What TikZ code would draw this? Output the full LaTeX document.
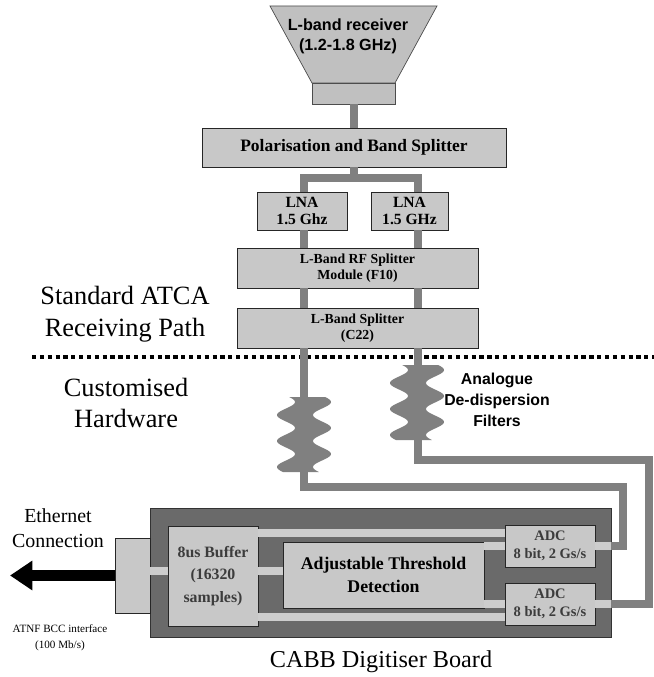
\documentclass[tikz,border=0pt]{standalone}
\usepackage{fontspec}
\setmainfont{Liberation Serif}
\setsansfont{Liberation Sans}
\usetikzlibrary{positioning,calc,arrows.meta}

\definecolor{boxgray}{RGB}{200,200,200}
\definecolor{horngray}{RGB}{192,192,192}
\definecolor{wiregray}{RGB}{128,128,128}
\definecolor{boardgray}{RGB}{106,106,106}
\definecolor{stripegray}{RGB}{205,205,205}
\definecolor{txtgray}{RGB}{60,60,60}

\newcommand{\fsz}[2]{\fontsize{#1}{#2}\selectfont}
% de-dispersion filter: centre x, top y
\newcommand{\ddfilter}[2]{%
  \fill[wiregray] plot[domain=#2:#2+75,samples=90,variable=\t] ({#1-18+9*sin((\t-#2-5)/26*360+90)},\t)
    -- plot[domain=#2+75:#2,samples=90,variable=\t] ({#1+18+9*sin((\t-#2-5)/26*360+90)},\t) -- cycle;}

\begin{document}
\begin{tikzpicture}[x=0.03cm,y=-0.03cm,
  box/.style={draw=black!85, fill=boxgray, line width=0.7pt, inner sep=0pt, align=center, font=\bfseries},
  wire/.style={draw=wiregray, line width=6.8pt},
  stripe/.style={draw=stripegray, line width=6pt},
  lbl/.style={inner sep=0pt, align=center}]

\useasboundingbox (0,0) rectangle (654,677);

% receiver horn
\draw[fill=horngray, draw=black!70, line width=0.6pt] (270,6) -- (437,6) -- (395,83) -- (312,83) -- cycle;
\node[box, fill=horngray, draw=black!70, minimum width=2.49cm, minimum height=0.63cm] (hornbase) at (353.5,93.5) {};
\node[lbl, font=\sffamily\bfseries\fsz{13.8}{17}] (horn) at (348,36) {L-band receiver\\(1.2-1.8 GHz)};

% standard receiving path
\node[box, minimum width=9.12cm, minimum height=1.17cm, font=\bfseries\fsz{14.9}{17}] (pol) at (354,147.5) {Polarisation and Band Splitter};
\node[box, minimum width=2.7cm, minimum height=1.14cm, font=\bfseries\fsz{13.3}{14.5}] (lna1) at (302,211) {LNA\\1.5 Ghz};
\node[box, minimum width=2.31cm, minimum height=1.14cm, font=\bfseries\fsz{13.3}{14.5}] (lna2) at (409.5,211) {LNA\\1.5 GHz};
\node[box, minimum width=7.23cm, minimum height=1.2cm, font=\bfseries\fsz{11.8}{13.6}] (f10) at (357.5,268) {L-Band RF Splitter\\Module (F10)};
\node[box, minimum width=7.23cm, minimum height=1.2cm, font=\bfseries\fsz{11.8}{13.6}] (c22) at (357.5,328) {L-Band Splitter\\(C22)};

\node[lbl, font=\fsz{22.5}{27.2}] (stdpath) at (125,314) {Standard ATCA\\Receiving Path};
\node[lbl, font=\fsz{22.5}{27.2}] (custom) at (126,403) {Customised\\Hardware};

% divider
\coordinate (divL) at (32,357);
\coordinate (divR) at (654,357);
\draw[line width=3.6pt, dash pattern=on 3.6pt off 3.1pt] (divL) -- (divR);

% digitiser board
\node[draw=black!80, fill=boardgray, line width=0.7pt, minimum width=13.83cm, minimum height=3.87cm, inner sep=0pt] (board) at (380.5,572.5) {};
\node[box, minimum width=1.05cm, minimum height=2.25cm] (bcc) at (132.5,575.5) {};
\node[box, minimum width=2.7cm, minimum height=3cm, text=txtgray, font=\bfseries\fsz{13.5}{19}] (buf) at (213,576) {8us Buffer\\(16320\\samples)};
\node[box, minimum width=6.03cm, minimum height=1.98cm, font=\bfseries\fsz{15.2}{19.8}] (atd) at (383.5,575) {Adjustable Threshold\\Detection};
\node[box, minimum width=2.7cm, minimum height=1.26cm, text=txtgray, font=\bfseries\fsz{12.4}{15.3}] (adc1) at (550,546) {ADC\\8 bit, 2 Gs/s};
\node[box, minimum width=2.7cm, minimum height=1.26cm, text=txtgray, font=\bfseries\fsz{12.4}{15.3}] (adc2) at (550,604) {ADC\\8 bit, 2 Gs/s};

\coordinate (rowtop) at (0,533);
\coordinate (rowmid) at (0,571);
\coordinate (rowbot) at (0,617);
\draw[stripe] (buf.east |- rowtop) -- (adc1.west |- rowtop);
\draw[stripe] (buf.east |- rowbot) -- (adc2.west |- rowbot);
\draw[stripe] (buf.east |- rowmid) -- (atd.west |- rowmid);
\draw[stripe] (bcc.east |- rowmid) -- (buf.west |- rowmid);
\draw[stripe] (atd.east |- adc1.west) -- (adc1.west);
\draw[stripe] (atd.east |- adc2.west) -- (adc2.west);
\draw[stripe] (adc1.east) -- (board.east |- adc1.east);
\draw[stripe] (adc2.east) -- (board.east |- adc2.east);

% connectors
\coordinate (laneL) at (304,0);
\coordinate (laneR) at (418,0);
\coordinate (loopL) at (623,487);
\coordinate (loopR) at (649,460);
\draw[wire] (pol.north |- hornbase.south) -- (pol.north);
\draw[wire] (pol.south) -- ++(0,11) -| (laneL |- lna1.north);
\draw[wire] (pol.south) -- ++(0,11) -| (laneR |- lna2.north);
\draw[wire] (laneL |- lna1.south) -- (laneL |- f10.north);
\draw[wire] (laneR |- lna2.south) -- (laneR |- f10.north);
\draw[wire] (laneL |- f10.south) -- (laneL |- c22.north);
\draw[wire] (laneR |- f10.south) -- (laneR |- c22.north);
\draw[wire] (laneL |- c22.south) |- (loopL) |- (board.east |- adc1.east);
\draw[wire] (laneR |- c22.south) |- (loopR) |- (board.east |- adc2.east);

% filters
\ddfilter{304}{397}
\ddfilter{417}{365}
\node[lbl, font=\sffamily\bfseries\fsz{13.5}{18}] (filtlbl) at (497,400) {Analogue\\De-dispersion\\Filters};

% ethernet output
\coordinate (ethout) at (10,575.5);
\draw[-{Triangle[length=19pt,width=24pt]}, line width=10pt] (bcc.west) -- (ethout);
\node[lbl, font=\fsz{17}{21}] (eth) at (58,528) {Ethernet\\Connection};
\node[lbl, font=\fsz{9.5}{13.6}] (bcclbl) at (60,637.5) {ATNF BCC interface\\(100 Mb/s)};
\node[lbl, font=\fsz{20.7}{24}] (boardlbl) at (381,662) {CABB Digitiser Board};
\end{tikzpicture}
\end{document}
